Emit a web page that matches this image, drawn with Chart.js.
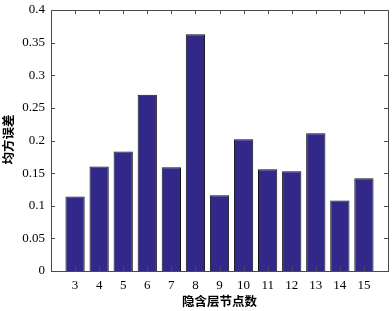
<!DOCTYPE html>
<html>
<head>
<meta charset="utf-8">
<script src="https://cdn.jsdelivr.net/npm/chart.js@4/dist/chart.umd.min.js"></script>
<style>
  body { margin: 0; background: #fff; }
</style>
</head>
<body>
<canvas id="mycanvas" width="392" height="311"></canvas>
<script>
// hidden layer nodes vs mean squared error
var nodes = [3, 4, 5, 6, 7, 8, 9, 10, 11, 12, 13, 14, 15];
var mse = [0.114, 0.160, 0.183, 0.270, 0.159, 0.363, 0.116, 0.202, 0.156, 0.153, 0.211, 0.108, 0.142];
var yTicks = [0, 0.05, 0.1, 0.15, 0.2, 0.25, 0.3, 0.35, 0.4];
var xTitle = '隐含层节点数';
var yTitle = '均方误差';

var points = [];
for (var i in nodes) {
    points.push({x: nodes[i], y: mse[i]});
}

// box with inward ticks on all four sides, plus axis titles
var matlabBox = {
    id: 'matlabBox',
    afterDatasetsDraw: function(chart) {
        var ctx = chart.ctx;
        var a = chart.chartArea;
        var xs = chart.scales.x, ys = chart.scales.y;
        ctx.save();
        ctx.strokeStyle = '#4a4a4a';
        ctx.lineWidth = 1;
        ctx.beginPath();
        for (var i in nodes) {
            var px = Math.round(xs.getPixelForValue(nodes[i])) + 0.5;
            ctx.moveTo(px, a.bottom); ctx.lineTo(px, a.bottom - 4);
            ctx.moveTo(px, a.top); ctx.lineTo(px, a.top + 4);
        }
        for (var j in yTicks) {
            var py = Math.round(ys.getPixelForValue(yTicks[j])) + 0.5;
            ctx.moveTo(a.left, py); ctx.lineTo(a.left + 4, py);
            ctx.moveTo(a.right, py); ctx.lineTo(a.right - 4, py);
        }
        ctx.stroke();
        ctx.strokeRect(Math.round(a.left) + 0.5, Math.round(a.top) + 0.5,
                       Math.round(a.right - a.left), Math.round(a.bottom - a.top));

        ctx.fillStyle = '#000';
        ctx.font = 'bold 12.5px "Noto Sans CJK SC"';
        ctx.textAlign = 'center';
        ctx.textBaseline = 'middle';
        ctx.fillText(xTitle, (a.left + a.right) / 2, 301);
        ctx.translate(8, (a.top + a.bottom) / 2 - 1);
        ctx.rotate(-Math.PI / 2);
        ctx.fillText(yTitle, 0, 0);
        ctx.restore();
    }
};

var ctx = document.getElementById('mycanvas');
var barGraph = new Chart(ctx, {
    type: 'bar',
    data: {
        datasets: [{
            data: points,
            backgroundColor: '#31288a',
            borderColor: '#111',
            borderWidth: 1,
            barPercentage: 0.8,
            categoryPercentage: 1
        }]
    },
    options: {
        responsive: false,
        animation: false,
        layout: { padding: { top: 10, right: 4, left: 0, bottom: 0 } },
        plugins: { legend: { display: false }, tooltip: { enabled: false } },
        scales: {
            x: {
                type: 'linear',
                offset: false,
                min: 2,
                max: 16,
                grid: { display: false, drawTicks: false, offset: false },
                border: { display: false },
                afterFit: function(s) { s.height = 40; s.paddingLeft = 0; s.paddingRight = 0; },
                ticks: {
                    stepSize: 1,
                    padding: 7,
                    color: '#000',
                    font: { family: '"Liberation Serif"', size: 13 },
                    callback: function(v) { return (v < 3 || v > 15) ? '' : v; }
                }
            },
            y: {
                min: 0,
                max: 0.4,
                grid: { display: false, drawTicks: false },
                border: { display: false },
                afterFit: function(s) { s.width = 51; s.paddingTop = 0; s.paddingBottom = 0; },
                ticks: {
                    stepSize: 0.05,
                    padding: 6,
                    color: '#000',
                    font: { family: '"Liberation Serif"', size: 13 },
                    callback: function(v) { return +v.toFixed(2); }
                }
            }
        }
    },
    plugins: [matlabBox]
});
</script>
</body>
</html>
